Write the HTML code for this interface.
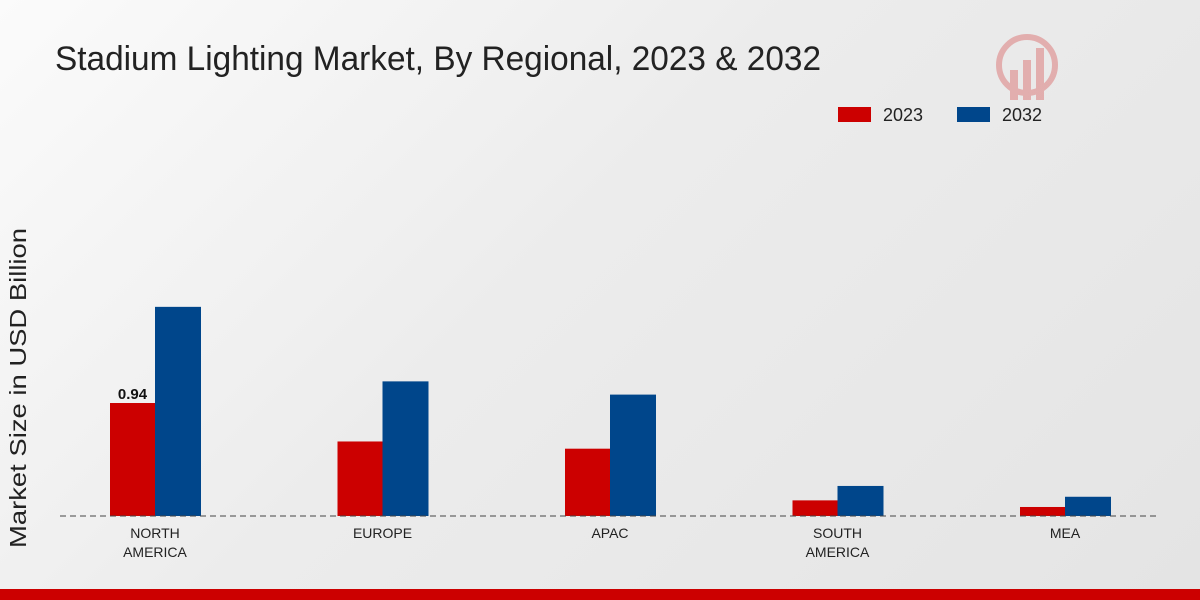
<!DOCTYPE html>
<html><head><meta charset="utf-8"><style>
body{margin:0;width:1200px;height:600px;overflow:hidden;font-family:"Liberation Sans",sans-serif;}
#bg{position:absolute;left:0;top:0;width:1200px;height:600px;background:linear-gradient(135deg,#fbfbfb 0%,#ececec 45%,#e4e4e4 100%);}
</style></head><body>
<div id="bg"></div>
<svg id="chart" width="1200" height="600" style="position:absolute;left:0;top:0">
<text x="55" y="70" font-size="34" fill="#222" textLength="766" lengthAdjust="spacingAndGlyphs">Stadium Lighting Market, By Regional, 2023 &amp; 2032</text>
<g>
<rect x="838" y="107" width="33" height="15" fill="#cc0000"/>
<text x="883" y="121" font-size="18" fill="#222">2023</text>
<rect x="957" y="107" width="33" height="15" fill="#00468b"/>
<text x="1002" y="121" font-size="18" fill="#222">2032</text>
</g>
<text transform="translate(26,388) rotate(-90)" x="-160" font-size="23" fill="#222" textLength="320" lengthAdjust="spacingAndGlyphs">Market Size in USD Billion</text>
<g id="plot"></g>
<line x1="60" y1="516" x2="1160" y2="516" stroke="#444" stroke-dasharray="6,4"/>
<g opacity="0.25">
<circle cx="1027" cy="65" r="28" fill="none" stroke="#c00" stroke-width="6"/>
<rect x="1010" y="70" width="8" height="30" fill="#c00"/><rect x="1023" y="60" width="8" height="40" fill="#c00"/><rect x="1036" y="48" width="8" height="52" fill="#c00"/>
</g>
<rect x="0" y="589" width="1200" height="11" fill="#cc0000"/>
</svg>
<script>
const categories=["NORTH|AMERICA","EUROPE","APAC","SOUTH|AMERICA","MEA"];
const values2023=[0.94,0.62,0.56,0.13,0.075];
const values2032=[1.74,1.12,1.01,0.25,0.16];
const labels2023=["0.94","","","",""];
const ns="http://www.w3.org/2000/svg";
const g=document.getElementById("plot");
const base=516, pxPerUnit=120.2;
const y=v=>base-v*pxPerUnit;
const xc=i=>155+i*227.5;
function mk(t,a){const e=document.createElementNS(ns,t);for(const k in a)e.setAttribute(k,a[k]);g.appendChild(e);return e;}
categories.forEach((c,i)=>{
 const r1=mk("rect",{x:xc(i)-45,y:y(values2023[i]),width:45,height:base-y(values2023[i]),fill:"#cc0000"});
 
 
 const r2=mk("rect",{x:xc(i),y:y(values2032[i]),width:46,height:base-y(values2032[i]),fill:"#00468b"});
 
 
 if(labels2023[i]){const t=mk("text",{x:xc(i)-22.5,y:y(values2023[i])-4,"text-anchor":"middle","font-size":"15","font-weight":"bold",fill:"#111"});t.textContent=labels2023[i];
 
 }
 c.split("|").forEach((ln,j)=>{const t=mk("text",{x:xc(i),y:538+j*19,"text-anchor":"middle","font-size":"14",fill:"#222"});t.textContent=ln;
 
 });
});
</script>
</body></html>
